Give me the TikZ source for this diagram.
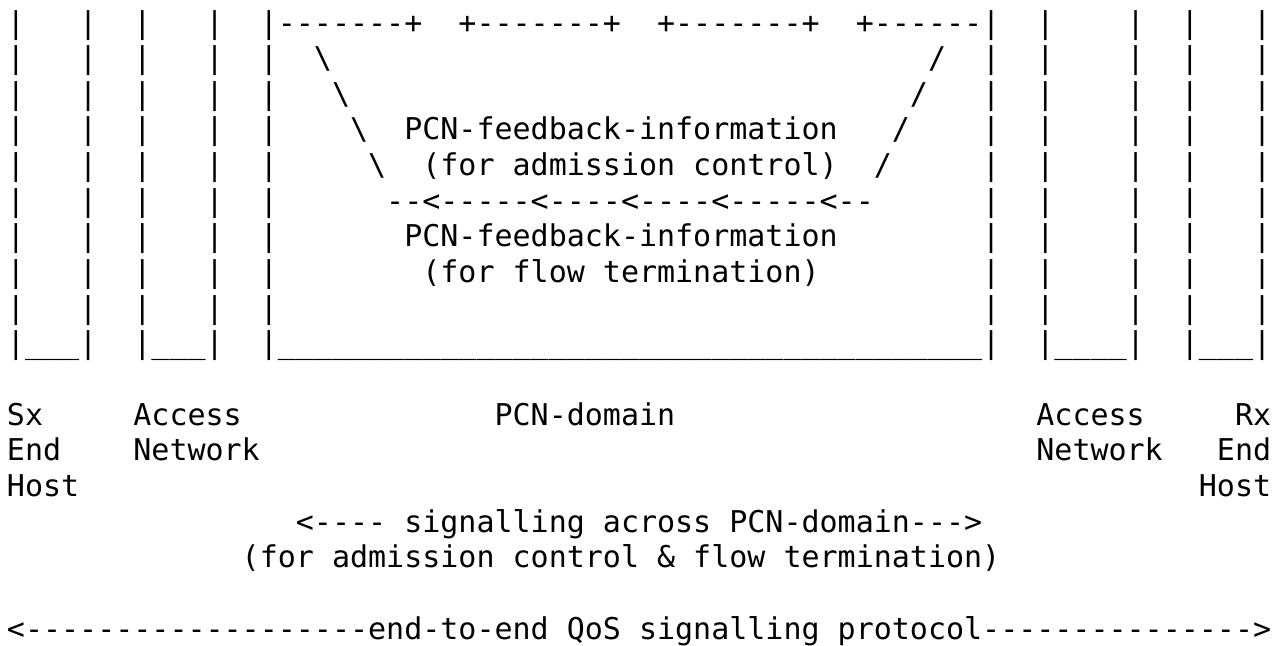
\documentclass[tikz,border=0pt]{standalone}
\usepackage{fontspec}
\setmonofont{DejaVu Sans Mono}

\newcommand\unders[1]{\foreach\i in {1,...,#1}{\_}}
\tikzset{
  ascii/.style={anchor=base west, inner sep=0pt,
    font=\ttfamily\fontsize{22.5pt}{26pt}\selectfont},
}

\begin{document}
\begin{tikzpicture}[x=13.545pt,y=-26.74pt]
			\useasboundingbox (-0.371,-0.926) rectangle (70.56,17.167);
			% hosts and access networks, left and right
			\foreach \r in {0,...,8} {
				\node[ascii] (left\r) at (0,\r) {|~~~|~~|~~~|~~|};
				\node[ascii] (right\r) at (54,\r) {|~~|~~~~|~~|~~~|};
			}
			% PCN nodes along the top of the domain
			\node[ascii] (pcnnodes) at (15,0) {-------+~~+-------+~~+-------+~~+------};
			\node[ascii] (down1) at (17,1) {\textbackslash};
			\node[ascii] (down2) at (18,2) {\textbackslash};
			\node[ascii] (down3) at (19,3) {\textbackslash};
			\node[ascii] (down4) at (20,4) {\textbackslash};
			\node[ascii] (up1) at (51,1) {/};
			\node[ascii] (up2) at (50,2) {/};
			\node[ascii] (up3) at (49,3) {/};
			\node[ascii] (up4) at (48,4) {/};
			\node[ascii] (fbadm) at (22,3) {PCN-feedback-information};
			\node[ascii] (fbadm2) at (23,4) {(for~admission~control)};
			\node[ascii] (feedback) at (21,5) {--<-----<----<----<-----<--};
			\node[ascii] (fbterm) at (22,6) {PCN-feedback-information};
			\node[ascii] (fbterm2) at (23,7) {(for~flow~termination)};
			\node[ascii] (bottom) at (0,9) {|\unders{3}|~~|\unders{3}|~~|\unders{39}|~~|\unders{4}|~~|\unders{3}|};
			% labels under the boxes
			\node[ascii] (sx) at (0,11) {Sx};
			\node[ascii] (accl) at (7,11) {Access};
			\node[ascii] (domain) at (27,11) {PCN-domain};
			\node[ascii] (accr) at (57,11) {Access};
			\node[ascii] (rx) at (68,11) {Rx};
			\node[ascii] (endl) at (0,12) {End};
			\node[ascii] (netl) at (7,12) {Network};
			\node[ascii] (netr) at (57,12) {Network};
			\node[ascii] (endr) at (67,12) {End};
			\node[ascii] (hostl) at (0,13) {Host};
			\node[ascii] (hostr) at (66,13) {Host};
			% signalling
			\node[ascii] (sigpcn) at (16,14) {<----~signalling~across~PCN-domain--->};
			\node[ascii] (sigpcn2) at (13,15) {(for~admission~control~\&~flow~termination)};
			\node[ascii] (e2e) at (0,17) {<-------------------end-to-end~QoS~signalling~protocol--------------->};
		\end{tikzpicture}
\end{document}
